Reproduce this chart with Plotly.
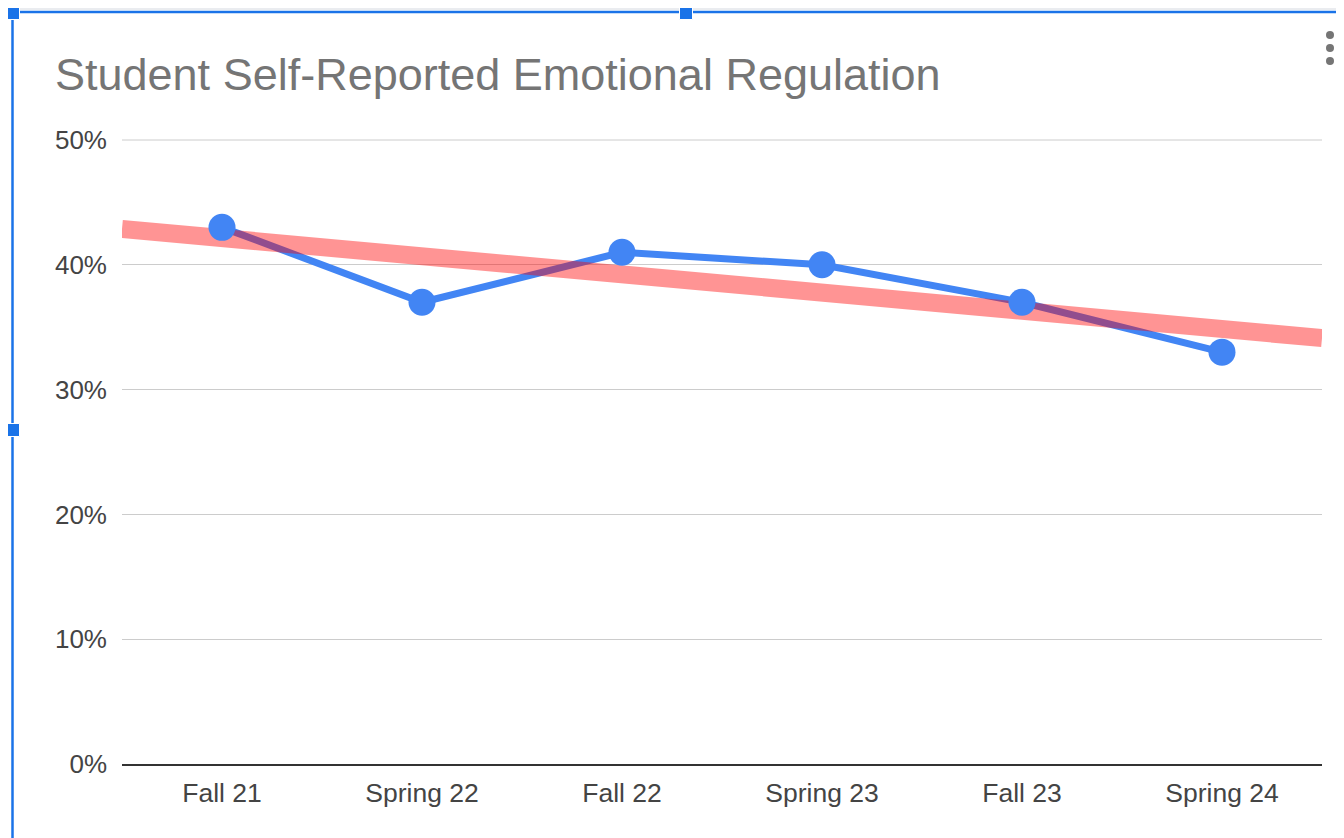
import numpy as np
import plotly.graph_objects as go

# ---- data ----
categories = ["Fall 21", "Spring 22", "Fall 22", "Spring 23", "Fall 23", "Spring 24"]
values = [0.43, 0.37, 0.41, 0.40, 0.37, 0.33]
y_tickvals = [0, 0.1, 0.2, 0.3, 0.4, 0.5]
y_ticktext = ["0%", "10%", "20%", "30%", "40%", "50%"]
title_text = "Student Self-Reported Emotional Regulation"

# ---- geometry (page pixels; the page body adds an 8px offset) ----
OFF = 8
W, H = 1344 - OFF, 838 - OFF
L, T = 122 - OFF, 139 - OFF
R = W - (1322 - OFF)
B = H - (764 - OFF)
PW, PH = W - L - R, H - T - B

def px(xp):
    return (xp - OFF - L) / PW

def py(yp):
    return (H - B - (yp - OFF)) / PH

xpos = list(range(len(categories)))
x_rng = [-0.5, len(categories) - 0.5]
slope, intercept = np.polyfit(xpos, values, 1)
trend_x = x_rng
trend_y = [intercept + slope * x for x in trend_x]

BLUE = "#4285F4"
font_family = "Liberation Sans, Arial, sans-serif"

fig = go.Figure()
fig.add_trace(go.Scatter(x=xpos, y=values, mode="lines",
                         line=dict(color=BLUE, width=7), hoverinfo="skip", showlegend=False))
fig.add_trace(go.Scatter(x=trend_x, y=trend_y, mode="lines",
                         line=dict(color="rgba(255,0,0,0.42)", width=18), hoverinfo="skip", showlegend=False))
fig.add_trace(go.Scatter(x=xpos, y=values, mode="markers",
                         marker=dict(color=BLUE, size=27, line=dict(width=0)),
                         hoverinfo="skip", showlegend=False))

shapes = []
# top gridline (at the edge of the range, which plotly does not draw itself)
shapes.append(dict(type="line", xref="paper", yref="y", x0=0, x1=1,
                   y0=y_tickvals[-1], y1=y_tickvals[-1],
                   line=dict(color="#cccccc", width=1), layer="below"))
SEL = "#1a73e8"
shapes.append(dict(type="line", xref="paper", yref="paper", x0=px(0), x1=px(1344), y0=py(9), y1=py(9),
                   line=dict(color="#d5d9e0", width=1), layer="above"))
shapes.append(dict(type="line", xref="paper", yref="paper", x0=px(12), x1=px(1344), y0=py(12), y1=py(12),
                   line=dict(color=SEL, width=2.5), layer="above"))
shapes.append(dict(type="line", xref="paper", yref="paper", x0=px(12.5), x1=px(12.5), y0=py(12), y1=py(838),
                   line=dict(color=SEL, width=2.5), layer="above"))
for hx, hy in [(13, 13), (686, 13), (13, 430)]:
    shapes.append(dict(type="rect", xref="paper", yref="paper",
                       x0=px(hx - 6.5), x1=px(hx + 6.5), y0=py(hy - 6.5), y1=py(hy + 6.5),
                       fillcolor=SEL, line=dict(color="white", width=1), layer="above"))
for dy in [35, 48, 61]:
    shapes.append(dict(type="circle", xref="paper", yref="paper",
                       x0=px(1330 - 4), x1=px(1330 + 4), y0=py(dy - 4), y1=py(dy + 4),
                       fillcolor="#757575", line=dict(width=0), layer="above"))

fig.update_layout(
    width=W, height=H,
    margin=dict(l=L, r=R, t=T, b=B, pad=0),
    paper_bgcolor="white", plot_bgcolor="white",
    title=dict(text=title_text, x=(55 - OFF) / W, xref="container", xanchor="left",
               y=1 - (74 - OFF) / H, yref="container", yanchor="middle",
               font=dict(family=font_family, size=45, color="#757575")),
    font=dict(family=font_family, color="#444444"),
    xaxis=dict(range=x_rng, tickmode="array", tickvals=xpos, ticktext=categories,
               showgrid=False, zeroline=False, showline=True, linecolor="#333333", linewidth=1.5,
               ticks="", tickfont=dict(size=26.5, color="#444444"), ticklabelstandoff=4,
               fixedrange=True),
    yaxis=dict(range=[0, 0.5008], tickmode="array", tickvals=y_tickvals, ticktext=y_ticktext,
               showgrid=True, gridcolor="#cccccc", gridwidth=1, zeroline=False, showline=False,
               ticks="", tickfont=dict(size=26, color="#444444"), ticklabelstandoff=14,
               fixedrange=True),
    shapes=shapes,
    showlegend=False,
)

fig.write_html("out.html", config={"displayModeBar": False})
